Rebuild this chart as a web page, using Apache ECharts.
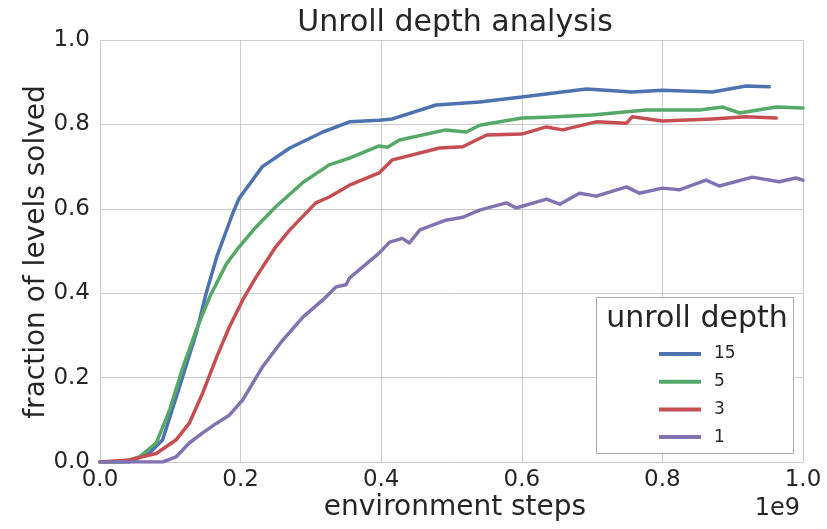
<!DOCTYPE html>
<html>
<head>
<meta charset="utf-8">
<script src="https://cdn.jsdelivr.net/npm/echarts@6/dist/echarts.min.js"></script>
<style>html,body{margin:0;padding:0;background:#fff}#c{width:827px;height:529px}</style>
</head>
<body>
<div id="c"></div>
<script>
// x values are in units of 1e9 environment steps
const xTicks = [0.0, 0.2, 0.4, 0.6, 0.8, 1.0];
const yTicks = [0.0, 0.2, 0.4, 0.6, 0.8, 1.0];
const seriesNames = ['15', '5', '3', '1'];

const x15 = [0, 0.042, 0.07, 0.089, 0.113, 0.137, 0.151, 0.166, 0.189, 0.198, 0.231, 0.27, 0.317, 0.355, 0.397, 0.416, 0.478, 0.54, 0.60, 0.692, 0.757, 0.80, 0.871, 0.919, 0.952];
const y15 = [0, 0.0, 0.021, 0.052, 0.178, 0.306, 0.40, 0.486, 0.59, 0.625, 0.70, 0.744, 0.782, 0.806, 0.81, 0.813, 0.846, 0.853, 0.865, 0.884, 0.877, 0.881, 0.877, 0.891, 0.889];

const x5 = [0, 0.032, 0.056, 0.08, 0.099, 0.118, 0.137, 0.156, 0.18, 0.198, 0.222, 0.25, 0.289, 0.326, 0.355, 0.397, 0.409, 0.426, 0.492, 0.521, 0.54, 0.60, 0.635, 0.70, 0.777, 0.853, 0.886, 0.91, 0.962, 1.0];
const y5 = [0, 0, 0.012, 0.045, 0.123, 0.225, 0.313, 0.391, 0.47, 0.51, 0.557, 0.605, 0.663, 0.704, 0.72, 0.749, 0.746, 0.763, 0.787, 0.782, 0.798, 0.815, 0.817, 0.822, 0.834, 0.834, 0.841, 0.827, 0.841, 0.839];

const x3 = [0, 0.042, 0.08, 0.108, 0.127, 0.146, 0.166, 0.184, 0.203, 0.222, 0.25, 0.27, 0.307, 0.326, 0.355, 0.397, 0.416, 0.483, 0.516, 0.55, 0.60, 0.635, 0.658, 0.706, 0.749, 0.757, 0.80, 0.871, 0.919, 0.962];
const y3 = [0, 0.005, 0.02, 0.052, 0.092, 0.163, 0.249, 0.32, 0.384, 0.438, 0.51, 0.55, 0.614, 0.628, 0.656, 0.685, 0.716, 0.744, 0.747, 0.775, 0.777, 0.794, 0.787, 0.806, 0.803, 0.818, 0.808, 0.813, 0.818, 0.815];

const x1 = [0, 0.089, 0.108, 0.127, 0.146, 0.166, 0.184, 0.203, 0.231, 0.26, 0.289, 0.317, 0.336, 0.35, 0.355, 0.397, 0.412, 0.43, 0.44, 0.455, 0.492, 0.516, 0.54, 0.578, 0.592, 0.635, 0.654, 0.682, 0.706, 0.749, 0.767, 0.80, 0.824, 0.862, 0.881, 0.928, 0.966, 0.99, 1.0];
const y1 = [0, 0, 0.012, 0.045, 0.069, 0.092, 0.111, 0.147, 0.225, 0.289, 0.344, 0.384, 0.415, 0.42, 0.436, 0.495, 0.521, 0.53, 0.519, 0.55, 0.573, 0.58, 0.597, 0.614, 0.602, 0.623, 0.611, 0.637, 0.63, 0.652, 0.637, 0.649, 0.645, 0.668, 0.654, 0.675, 0.664, 0.673, 0.668];

const colors = ['#4C72B0', '#55A868', '#C44E52', '#8172B2'];
const xs = [x15, x5, x3, x1];
const ys = [y15, y5, y3, y1];

const FONT = 'DejaVu Sans';
const TXT = '#262626';

const chart = echarts.init(document.getElementById('c'), null, {renderer: 'canvas'});
const series = seriesNames.map((n, i) => ({
  name: n,
  type: 'line',
  data: xs[i].map((x, j) => [x, ys[i][j]]),
  showSymbol: false,
  symbol: 'none',
  smooth: false,
  lineStyle: {width: 3.5, color: colors[i], join: 'round', cap: 'round'},
  itemStyle: {color: colors[i]},
  z: 2
}));

chart.setOption({
  animation: false,
  backgroundColor: '#fff',
  grid: {left: 100, right: 24, top: 40, bottom: 67, containLabel: false},
  xAxis: {
    type: 'value', min: 0, max: 1, interval: 0.2,
    axisLine: {show: false}, axisTick: {show: false},
    splitLine: {show: true, lineStyle: {color: '#cccccc', width: 1}},
    axisLabel: {fontFamily: FONT, fontSize: 23, color: TXT, margin: 7,
      formatter: v => xTicks.find(t => Math.abs(t - v) < 1e-9).toFixed(1)}
  },
  yAxis: {
    type: 'value', min: 0, max: 1, interval: 0.2,
    axisLine: {show: false}, axisTick: {show: false},
    splitLine: {show: true, lineStyle: {color: '#cccccc', width: 1}},
    axisLabel: {fontFamily: FONT, fontSize: 23, color: TXT, margin: 10,
      formatter: v => yTicks.find(t => Math.abs(t - v) < 1e-9).toFixed(1)}
  },
  legend: {
    orient: 'vertical', left: 654, top: 339,
    data: seriesNames,
    icon: 'rect', itemWidth: 42, itemHeight: 4, itemGap: 7.7,
    textStyle: {fontFamily: FONT, fontSize: 17, color: TXT, lineHeight: 20, padding: [0, 0, 0, 8]},
    z: 10
  },
  graphic: [
    {type: 'text', z: 10, x: 455, y: 23, style: {text: 'Unroll depth analysis', font: '30px "DejaVu Sans"', fill: TXT, align: 'center', verticalAlign: 'middle'}},
    {type: 'text', z: 10, x: 455, y: 508, style: {text: 'environment steps', font: '28px "DejaVu Sans"', fill: TXT, align: 'center', verticalAlign: 'middle'}},
    {type: 'text', z: 10, x: 800, y: 509, style: {text: '1e9', font: '24px "DejaVu Sans"', fill: TXT, align: 'right', verticalAlign: 'middle'}},
    {type: 'text', z: 10, x: 37, y: 252, rotation: Math.PI / 2, style: {text: 'fraction of levels solved', font: '28px "DejaVu Sans"', fill: TXT, align: 'center', verticalAlign: 'middle'}},
    {type: 'rect', z: 5, shape: {x: 596.5, y: 297.5, width: 197, height: 156}, style: {fill: '#ffffff', stroke: '#aaaaaa', lineWidth: 1}},
    {type: 'text', z: 10, x: 697, y: 319, style: {text: 'unroll depth', font: '30px "DejaVu Sans"', fill: TXT, align: 'center', verticalAlign: 'middle'}}
  ],
  series: series
});
</script>
</body>
</html>
